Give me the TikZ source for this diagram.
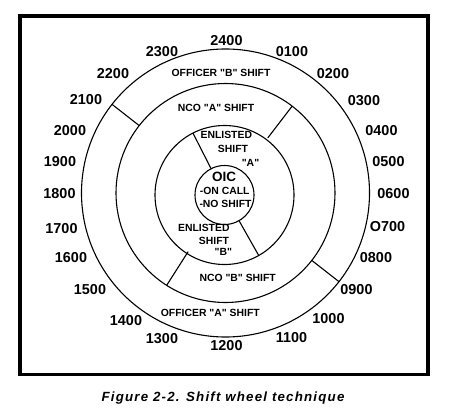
\documentclass[tikz,border=0pt]{standalone}
\usepackage{fontspec}
\setmainfont{Liberation Sans}
\newfontfamily\captionfont[LetterSpace=9]{Liberation Sans}
\usetikzlibrary{calc}
\usetikzlibrary{positioning}

\newcommand{\qq}[1]{\textquotedbl#1\textquotedbl}

\tikzset{
  hour/.style={inner sep=0pt, font=\bfseries\fontsize{14.4}{14.4}\selectfont},
  shiftname/.style={inner sep=0pt, font=\bfseries\fontsize{10.4}{10.4}\selectfont},
  ring/.style={line width=1.1pt},
}

\begin{document}
\begin{tikzpicture}[x=1pt, y=1pt]
\useasboundingbox (0,0) rectangle (450,416);
\draw [line width=3.8pt] (20,41.5) rectangle (428,400);
\coordinate (C) at (225.5,223);
\coordinate (c) at (224.5,221);
% the four rings
\draw [ring] (C) circle [radius=144];
\draw [ring] (C) circle [radius=109.5];
\draw [ring] (c) circle [radius=69.5];
\draw [ring] (c) circle [radius=29.5];
% shift boundaries
\draw [ring, shift={(C)}] (142:144) -- (142:109.5);
\draw [ring, shift={(C)}] (-38:144) -- (-38:109.5);
\draw [ring, shift={(C)}] (52.5:109.5) -- (52.5:69.5);
\draw [ring, shift={(C)}] (237.5:109.5) -- (237.5:69.5);
\draw [ring, shift={(c)}] (117:69.5) -- (117:29.5);
\draw [ring, shift={(c)}] (-60.5:69.5) -- (-60.5:29.5);
% hours
\node [hour] (h2400) at (226.5,375.5) {2400};
\node [hour] (h0100) at (292,364.5) {0100};
\node [hour] (h0200) at (333,342) {0200};
\node [hour] (h0300) at (364,315) {0300};
\node [hour] (h0400) at (381.5,285.5) {0400};
\node [hour] (h0500) at (388.5,254) {0500};
\node [hour] (h0600) at (393.5,222) {0600};
\node [hour] (h0700) at (387.5,189) {O700};
\node [hour] (h0800) at (376,158.5) {0800};
\node [hour] (h0900) at (356.5,126.5) {0900};
\node [hour] (h1000) at (328.5,97.5) {1000};
\node [hour] (h1100) at (291.5,78) {1100};
\node [hour] (h1200) at (226.5,70) {1200};
\node [hour] (h1300) at (162,77.5) {1300};
\node [hour] (h1400) at (126,95) {1400};
\node [hour] (h1500) at (90,126.5) {1500};
\node [hour] (h1600) at (71,158.5) {1600};
\node [hour] (h1700) at (61.5,187) {1700};
\node [hour] (h1800) at (59.5,222) {1800};
\node [hour] (h1900) at (60,254) {1900};
\node [hour] (h2000) at (70,285.5) {2000};
\node [hour] (h2100) at (86,316.5) {2100};
\node [hour] (h2200) at (113,342) {2200};
\node [hour] (h2300) at (162,364.5) {2300};
% shifts
\node [shiftname] (offB) at (221,342.7) {OFFICER \qq{B} SHIFT};
\node [shiftname] (ncoA) at (216,308.3) {NCO \qq{A} SHIFT};
\node [shiftname] (enlA) at (226.3,281) {ENLISTED};
\node [shiftname] (enlAs) at (233,266.7) {SHIFT};
\node [shiftname] (enlAq) at (250.5,252.7) {\qq{A}};
\node [shiftname, font=\bfseries\fontsize{13.5}{13.5}\selectfont] (oic) at (224,239.3) {OIC};
\node [shiftname] (call) at (224.7,225) {-ON CALL};
\node [shiftname] (noshift) at (225.5,211.7) {-NO SHIFT};
\node [shiftname] (enlB) at (203.8,187.7) {ENLISTED};
\node [shiftname] (enlBs) at (214,175) {SHIFT};
\node [shiftname] (enlBq) at (223.3,163.7) {\qq{B}};
\node [shiftname] (ncoB) at (237.7,137.7) {NCO \qq{B} SHIFT};
\node [shiftname] (offA) at (210.3,102.7) {OFFICER \qq{A} SHIFT};
% caption
\node [inner sep=0pt, anchor=base, font=\captionfont\bfseries\itshape\fontsize{13.3}{13.3}\selectfont] (title) at (223,14.5) {Figure 2-2. Shift wheel technique};
\end{tikzpicture}
\end{document}
